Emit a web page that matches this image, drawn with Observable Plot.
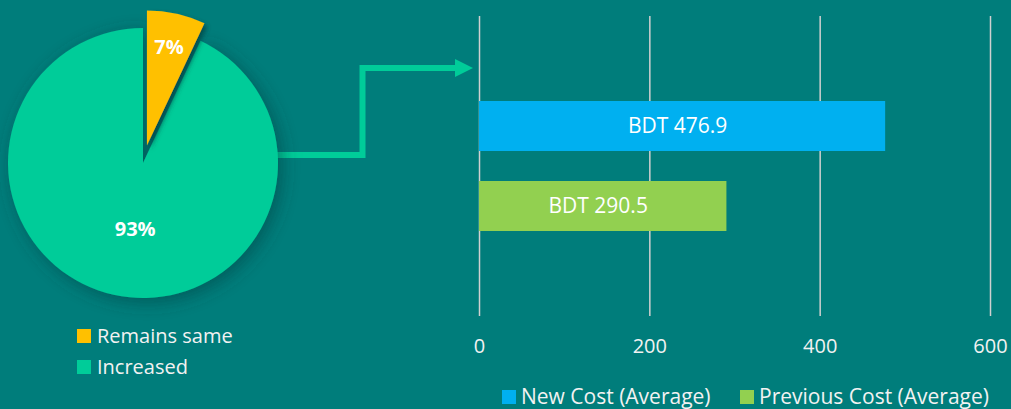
<!DOCTYPE html>
<html><head><meta charset="utf-8">
<script src="https://cdn.jsdelivr.net/npm/d3@7"></script>
<script src="https://cdn.jsdelivr.net/npm/@observablehq/plot@0.6"></script>
<style>html,body{margin:0;padding:0;background:#007D7B;overflow:hidden;}</style>
</head><body><div id="chart"></div>
<script>
// ---- data ----
const pieCategories = ["Remains same", "Increased"];
const pieValues = [7, 93];
const pieColors = ["#FFC000", "#00CC99"];
const barCategories = ["New Cost (Average)", "Previous Cost (Average)"];
const barValues = [476.9, 290.5];
const barColors = ["#00B0F0", "#92D050"];
const xTicks = [0, 200, 400, 600];

// ---- layout ----
const W = 1011, H = 409;
const BG = "#007D7B";
const FONT = "'Open Sans', sans-serif";
const pieLayout = {cx: 143, cy: 163, r: 135, explode: 18, labelR: [101, 68], labelDx: [0, 7]};
const arrowLayout = {startDy: -8, elbowX: 362.5, topY: 68, gap: 6, head: 18, halfW: 9, width: 6};
const pieLegend = {x: 77, y: [329, 360], size: 14, textDx: 20, fontSize: 20};
const barLegend = {x: [502, 740], y: 390, size: 14, textDx: 19, fontSize: 21};

const pieData = pieCategories.map((c, i) => ({category: c, value: pieValues[i], color: pieColors[i]}));
const barData = barCategories.map((c, i) => ({series: c, value: barValues[i]}));

function pieMark(index, scales, values, dimensions) {
  const g = d3.create("svg:g");
  const defs = g.append("defs");
  const f1 = defs.append("filter").attr("id", "bigShadow")
    .attr("x", "-30%").attr("y", "-30%").attr("width", "160%").attr("height", "160%");
  f1.append("feDropShadow").attr("dx", 4).attr("dy", 4).attr("stdDeviation", 9)
    .attr("flood-color", "#003c3c").attr("flood-opacity", 0.55);
  const f2 = defs.append("filter").attr("id", "sliceShadow")
    .attr("x", "-30%").attr("y", "-30%").attr("width", "160%").attr("height", "160%");
  f2.append("feDropShadow").attr("dx", 3).attr("dy", 3).attr("stdDeviation", 2.5)
    .attr("flood-color", "#003c3c").attr("flood-opacity", 0.7);

  const arcs = d3.pie().sort(null).value(d => d.value)(pieData);
  const arc = d3.arc().innerRadius(0).outerRadius(pieLayout.r);
  const P = pieLayout;

  // arrow (from pie edge to bar chart)
  const x0 = scales.x(0);
  const A = arrowLayout;
  const sx = P.cx + P.r - 2, sy = P.cy + A.startDy;
  const tipX = x0 - A.gap;
  g.append("path")
    .attr("d", `M${sx},${sy}H${A.elbowX}V${A.topY}H${tipX - A.head + 1}`)
    .attr("fill", "none").attr("stroke", pieColors[1]).attr("stroke-width", A.width)
    .attr("stroke-linejoin", "miter");
  g.append("path")
    .attr("d", `M${tipX - A.head},${A.topY - A.halfW}L${tipX},${A.topY}L${tipX - A.head},${A.topY + A.halfW}Z`)
    .attr("fill", pieColors[1]);

  const order = [1, 0];
  for (const i of order) {
    const a = arcs[i];
    const mid = (a.startAngle + a.endAngle) / 2;
    const off = i === 0 ? P.explode : 0;
    const ox = P.cx + Math.sin(mid) * off, oy = P.cy - Math.cos(mid) * off;
    g.append("path")
      .attr("transform", `translate(${ox},${oy})`)
      .attr("d", arc(a))
      .attr("fill", a.data.color)
      .attr("filter", i === 0 ? "url(#sliceShadow)" : "url(#bigShadow)");
  }
  for (const i of order) {
    const a = arcs[i];
    const mid = (a.startAngle + a.endAngle) / 2;
    const off = i === 0 ? P.explode : 0;
    const ox = P.cx + Math.sin(mid) * off, oy = P.cy - Math.cos(mid) * off;
    const lr = P.labelR[i];
    g.append("text")
      .attr("x", ox + Math.sin(mid) * lr + P.labelDx[i])
      .attr("y", oy - Math.cos(mid) * lr)
      .attr("dy", "0.35em")
      .attr("text-anchor", "middle")
      .attr("fill", "white")
      .attr("font-weight", "bold")
      .attr("font-size", 20)
      .attr("font-family", FONT)
      .text(a.data.value + "%");
  }
  return g.node();
}

function legendMark() {
  const g = d3.create("svg:g").attr("font-family", FONT)
    .attr("fill", "white").attr("text-anchor", "start");
  pieData.forEach((d, i) => {
    const L = pieLegend;
    g.append("rect").attr("x", L.x).attr("y", L.y[i]).attr("width", L.size).attr("height", L.size).attr("fill", d.color);
    g.append("text").attr("x", L.x + L.textDx).attr("y", L.y[i] + L.size).attr("dy", "0.02em")
      .attr("font-size", L.fontSize).attr("text-anchor", "start").attr("fill", "#F2F2F2").text(d.category);
  });
  barCategories.forEach((c, i) => {
    const L = barLegend;
    g.append("rect").attr("x", L.x[i]).attr("y", L.y).attr("width", L.size).attr("height", L.size).attr("fill", barColors[i]);
    g.append("text").attr("x", L.x[i] + L.textDx).attr("y", L.y + L.size).attr("dy", "-0.02em")
      .attr("font-size", L.fontSize).attr("text-anchor", "start").attr("fill", "#F2F2F2").text(c);
  });
  return g.node();
}

const chart = Plot.plot({
  width: W, height: H,
  marginLeft: 479, marginRight: 21, marginTop: 16, marginBottom: 93,
  style: {background: BG, fontFamily: FONT, color: "white", overflow: "visible"},
  x: {domain: [0, 600], ticks: xTicks},
  y: {domain: barCategories, paddingInner: 0.375, paddingOuter: 1.0625, axis: null},
  color: {domain: barCategories, range: barColors},
  marks: [
    Plot.gridX(xTicks, {stroke: "#D0D0D0", strokeOpacity: 1, strokeWidth: 1.5}),
    Plot.barX(barData, {x: "value", y: "series", fill: "series"}),
    Plot.text(barData, {x: d => d.value / 2, y: "series", text: d => "BDT " + d.value, fill: "white", fontSize: 21, dx: -5}),
    Plot.axisX({ticks: xTicks, tickSize: 0, tickPadding: 22, fontSize: 20, fill: "#F2F2F2", label: null}),
    pieMark,
    legendMark
  ]
});
document.getElementById("chart").appendChild(chart);
</script>
</body></html>
